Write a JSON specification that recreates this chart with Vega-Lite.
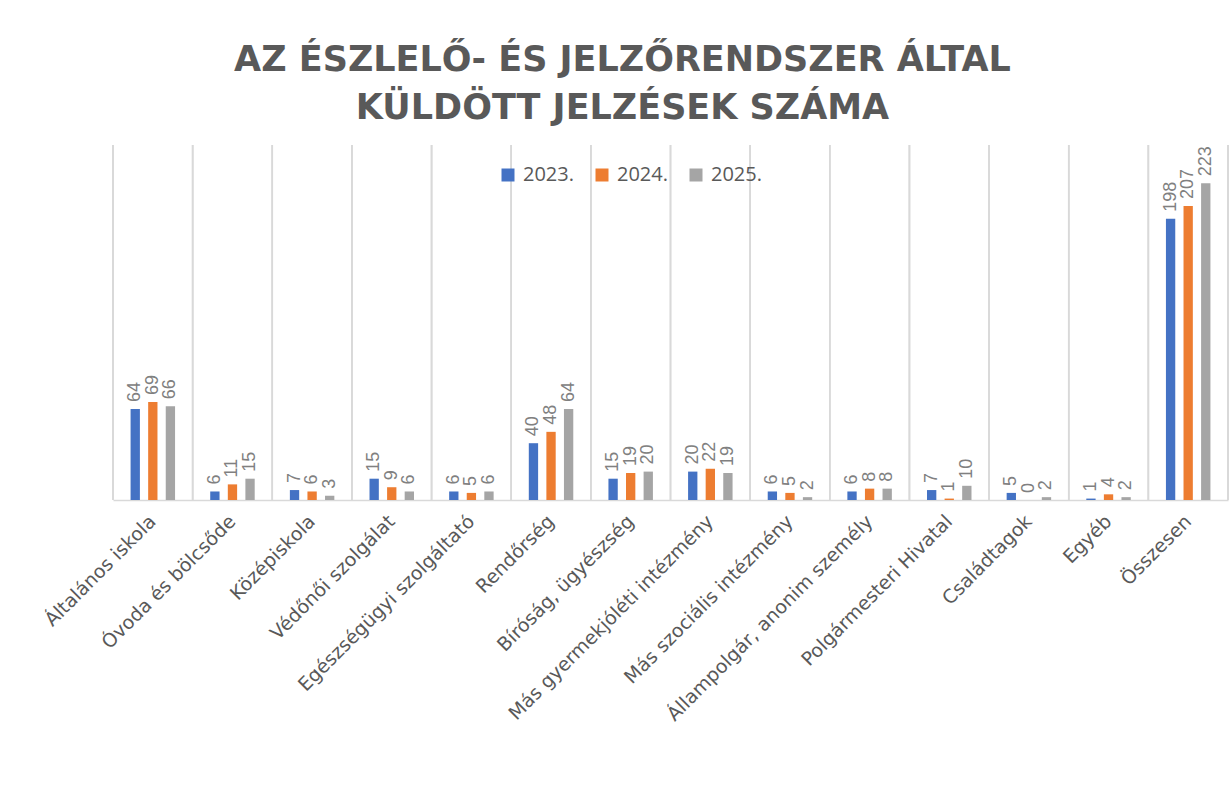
{
  "$schema": "https://vega.github.io/schema/vega-lite/v6.json",
  "width": 1115,
  "height": 355,
  "autosize": {"type": "none"},
  "padding": {"left": 113, "top": 145, "right": 4, "bottom": 299},
  "background": "white",
  "title": {
    "text": ["AZ ÉSZLELŐ- ÉS JELZŐRENDSZER ÁLTAL", "KÜLDÖTT JELZÉSEK SZÁMA"],
    "font": "DejaVu Sans",
    "fontWeight": "bold",
    "fontSize": 35,
    "color": "#595959",
    "lineHeight": 48,
    "anchor": "middle",
    "dx": -48,
    "offset": 18
  },
  "data": {
    "values": [
      {"cat": "Általános iskola", "year": "2023.", "value": 64},
      {"cat": "Általános iskola", "year": "2024.", "value": 69},
      {"cat": "Általános iskola", "year": "2025.", "value": 66},
      {"cat": "Óvoda és bölcsőde", "year": "2023.", "value": 6},
      {"cat": "Óvoda és bölcsőde", "year": "2024.", "value": 11},
      {"cat": "Óvoda és bölcsőde", "year": "2025.", "value": 15},
      {"cat": "Középiskola", "year": "2023.", "value": 7},
      {"cat": "Középiskola", "year": "2024.", "value": 6},
      {"cat": "Középiskola", "year": "2025.", "value": 3},
      {"cat": "Védőnői szolgálat", "year": "2023.", "value": 15},
      {"cat": "Védőnői szolgálat", "year": "2024.", "value": 9},
      {"cat": "Védőnői szolgálat", "year": "2025.", "value": 6},
      {"cat": "Egészségügyi szolgáltató", "year": "2023.", "value": 6},
      {"cat": "Egészségügyi szolgáltató", "year": "2024.", "value": 5},
      {"cat": "Egészségügyi szolgáltató", "year": "2025.", "value": 6},
      {"cat": "Rendőrség", "year": "2023.", "value": 40},
      {"cat": "Rendőrség", "year": "2024.", "value": 48},
      {"cat": "Rendőrség", "year": "2025.", "value": 64},
      {"cat": "Bíróság, ügyészség", "year": "2023.", "value": 15},
      {"cat": "Bíróság, ügyészség", "year": "2024.", "value": 19},
      {"cat": "Bíróság, ügyészség", "year": "2025.", "value": 20},
      {"cat": "Más gyermekjóléti intézmény", "year": "2023.", "value": 20},
      {"cat": "Más gyermekjóléti intézmény", "year": "2024.", "value": 22},
      {"cat": "Más gyermekjóléti intézmény", "year": "2025.", "value": 19},
      {"cat": "Más szociális intézmény", "year": "2023.", "value": 6},
      {"cat": "Más szociális intézmény", "year": "2024.", "value": 5},
      {"cat": "Más szociális intézmény", "year": "2025.", "value": 2},
      {"cat": "Állampolgár, anonim személy", "year": "2023.", "value": 6},
      {"cat": "Állampolgár, anonim személy", "year": "2024.", "value": 8},
      {"cat": "Állampolgár, anonim személy", "year": "2025.", "value": 8},
      {"cat": "Polgármesteri Hivatal", "year": "2023.", "value": 7},
      {"cat": "Polgármesteri Hivatal", "year": "2024.", "value": 1},
      {"cat": "Polgármesteri Hivatal", "year": "2025.", "value": 10},
      {"cat": "Családtagok", "year": "2023.", "value": 5},
      {"cat": "Családtagok", "year": "2024.", "value": 0},
      {"cat": "Családtagok", "year": "2025.", "value": 2},
      {"cat": "Egyéb", "year": "2023.", "value": 1},
      {"cat": "Egyéb", "year": "2024.", "value": 4},
      {"cat": "Egyéb", "year": "2025.", "value": 2},
      {"cat": "Összesen", "year": "2023.", "value": 198},
      {"cat": "Összesen", "year": "2024.", "value": 207},
      {"cat": "Összesen", "year": "2025.", "value": 223}
    ]
  },
  "config": {
    "view": {"stroke": null},
    "legend": {
      "labelFont": "Open Sans",
      "labelFontSize": 20,
      "labelColor": "#595959",
      "symbolType": "square",
      "symbolSize": 169,
      "symbolStrokeWidth": 0,
      "columnPadding": 18,
      "labelOffset": 5
    }
  },
  "layer": [
    {
      "mark": {"type": "rule", "stroke": "#d9d9d9", "strokeWidth": 1.5},
      "encoding": {
        "x": {"field": "cat", "type": "nominal", "sort": null, "bandPosition": 0}
      }
    },
    {
      "transform": [{"filter": "datum.cat === 'Összesen'"}],
      "mark": {"type": "rule", "stroke": "#d9d9d9", "strokeWidth": 1.5},
      "encoding": {
        "x": {"field": "cat", "type": "nominal", "sort": null, "bandPosition": 1}
      }
    },
    {
      "mark": {"type": "bar"},
      "encoding": {
        "x": {
          "field": "cat",
          "type": "nominal",
          "sort": null,
          "scale": {"paddingInner": 0, "paddingOuter": 0},
          "axis": {
            "title": null,
            "labelAngle": -45,
            "labelAlign": "right",
            "labelBaseline": "middle",
            "labelFont": "DejaVu Sans",
            "labelFontSize": 19,
            "labelColor": "#595959",
            "labelPadding": 18,
            "ticks": false,
            "grid": false,
            "domainColor": "#d9d9d9",
            "domainWidth": 1.5,
            "labelLimit": 0
          }
        },
        "xOffset": {
          "field": "year",
          "type": "nominal",
          "scale": {"paddingInner": 0.47, "paddingOuter": 1.16}
        },
        "y": {
          "field": "value",
          "type": "quantitative",
          "scale": {"domain": [0, 250], "nice": false},
          "axis": null
        },
        "color": {
          "field": "year",
          "type": "nominal",
          "scale": {"domain": ["2023.", "2024.", "2025."], "range": ["#4472C4", "#ED7D31", "#A5A5A5"]},
          "legend": {
            "title": null,
            "orient": "none",
            "direction": "horizontal",
            "legendX": 385,
            "legendY": 20
          }
        }
      }
    },
    {
      "mark": {
        "type": "text",
        "angle": 270,
        "align": "left",
        "baseline": "middle",
        "dx": 7,
        "font": "Liberation Sans",
        "fontSize": 18,
        "color": "#808080"
      },
      "encoding": {
        "x": {"field": "cat", "type": "nominal", "sort": null},
        "xOffset": {"field": "year", "type": "nominal"},
        "y": {"field": "value", "type": "quantitative"},
        "text": {"field": "value", "type": "quantitative"}
      }
    }
  ]
}
